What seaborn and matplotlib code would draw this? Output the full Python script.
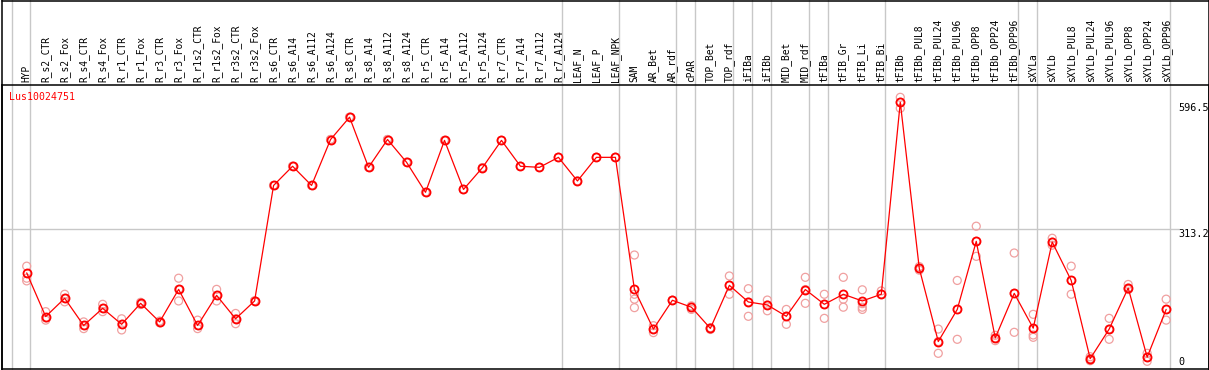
import matplotlib
matplotlib.use("Agg")
import matplotlib.pyplot as plt
from matplotlib.lines import Line2D
import matplotlib.transforms as mtransforms
import seaborn as sns
import pandas as pd
import numpy as np

categories = ["HYP", "R_s2_CTR", "R_s2_Fox", "R_s4_CTR", "R_s4_Fox", "R_r1_CTR", "R_r1_Fox",
              "R_r3_CTR", "R_r3_Fox", "R_r1s2_CTR", "R_r1s2_Fox", "R_r3s2_CTR", "R_r3s2_Fox",
              "R_s6_CTR", "R_s6_A14", "R_s6_A112", "R_s6_A124", "R_s8_CTR", "R_s8_A14",
              "R_s8_A112", "R_s8_A124", "R_r5_CTR", "R_r5_A14", "R_r5_A112", "R_r5_A124",
              "R_r7_CTR", "R_r7_A14", "R_r7_A112", "R_r7_A124", "LEAF_N", "LEAF_P", "LEAF_NPK",
              "SAM", "AR_Bet", "AR_rdf", "cPAR", "TOP_Bet", "TOP_rdf", "iFIBa", "iFIBb",
              "MID_Bet", "MID_rdf", "tFIBa", "tFIB_Gr", "tFIB_Li", "tFIB_Bi", "tFIBb",
              "tFIBb_PUL8", "tFIBb_PUL24", "tFIBb_PUL96", "tFIBb_OPP8", "tFIBb_OPP24",
              "tFIBb_OPP96", "sXYLa", "sXYLb", "sXYLb_PUL8", "sXYLb_PUL24", "sXYLb_PUL96",
              "sXYLb_OPP8", "sXYLb_OPP24", "sXYLb_OPP96"]

means = [214, 116, 157, 96, 134.5, 98.6, 145.7, 104, 177, 96, 163.6, 111, 151,
         410, 453, 410, 513, 563, 450.6, 513, 462, 394.6, 511, 401, 450, 511, 453, 450.6,
         473, 420, 473, 473,
         177, 88, 152.5, 137, 89.5, 186, 148.7, 142, 116.6, 176.6, 143.5, 166, 151, 166,
         596.5, 224, 60, 132, 284.7, 68, 168, 90, 283, 197, 21.6, 88, 180, 25, 132]

replicates = [
    [229, 202, 196], [127, 108, 113], [166, 149, 157], [104, 89, 96], [143.5, 127, 134.5],
    [111, 86, 98.6], [148, 143, 145.7], [106, 102, 104], [202, 151, 177], [108, 89, 96],
    [177, 151, 163.6], [123, 100, 111], [151, 151, 151],
    [410, 410], [453, 453], [410, 410], [513, 513], [563, 563], [450.6, 450.6], [513, 513],
    [462, 462], [394.6, 394.6], [511, 511], [401, 401], [450, 450], [511, 511], [453, 453],
    [450.6, 450.6], [473, 473], [420, 420], [473, 473], [473, 473],
    [254, 166, 155, 136], [95.5, 80, 88], [152.5, 152.5], [140, 132, 137], [91, 87, 89.5],
    [207, 166, 186], [178.5, 116.6, 148.7], [153, 129, 142], [132, 98.6, 116.6],
    [204, 145.7, 176.6], [166, 112, 143.5], [204, 137, 155], [176, 137, 132, 145],
    [173.5, 166, 166], [607.6, 583, 596.5], [228, 220, 224], [88, 33.6, 60], [197, 65, 132],
    [318.6, 251, 284.7], [74, 62, 68], [258.5, 80.7, 168], [121, 74.7, 69.5],
    [291.6, 276, 283], [229, 166, 197], [26, 17, 21.6], [112, 65, 88], [188, 176.6, 180],
    [33.6, 15.7, 25], [155, 108, 132]]

separators_after = [-1, 0, 28, 31, 34, 35, 37, 38, 39, 41, 42, 45, 52, 53, 60]
right_ticks = [596.5, 313.2, 0]
right_tick_labels = ["596.5", "313.2", "0"]
gene = "Lus10024751"

sns.set_theme(style="white")
plt.rcParams["font.family"] = ["DejaVu Sans Mono", "DejaVu Sans"]

W, H = 1209, 370
fig = plt.figure(figsize=(W / 100, H / 100), dpi=100)
ax_l, ax_r, ax_t, ax_b = 1.5, 1208.7, 85.0, 368.7
ax = fig.add_axes([ax_l / W, (H - ax_b) / H, (ax_r - ax_l) / W, (ax_b - ax_t) / H])

idx = np.arange(len(categories))
mean_df = pd.DataFrame({"x": idx, "y": means})
rep_x = [i for i, reps in enumerate(replicates) for _ in reps]
rep_y = [v for reps in replicates for v in reps]
rep_df = pd.DataFrame({"x": rep_x, "y": rep_y})

red = "#ff0000"
pale = "#f0a0a0"
grey = "#c8c8c8"

# separators spanning full figure height
blend = mtransforms.blended_transform_factory(ax.transData, ax.transAxes)
top_frac = 1 + ax_t / (ax_b - ax_t)
for s in separators_after:
    ax.plot([s + 0.2, s + 0.2], [0, top_frac], transform=blend, color=grey,
            lw=1.0, clip_on=False, zorder=0.5)

# horizontal reference line
ax.axhline(313.2, xmin=0, xmax=0.975, color=grey, lw=1.0, zorder=0.6)

sns.scatterplot(data=rep_df, x="x", y="y", ax=ax, marker="o", s=33,
                facecolor="none", edgecolor=pale, linewidth=0.9, zorder=2, legend=False)
sns.lineplot(data=mean_df, x="x", y="y", ax=ax, color=red, lw=0.9, sort=False,
             estimator=None, marker="o", markersize=5.8, markerfacecolor="none",
             markeredgecolor=red, markeredgewidth=1.3, zorder=3, legend=False)

ax.set_xlim(-1.327, 62.24)
ax.set_ylim(-0.9, 635.2)
ax.set_xlabel("")
ax.set_ylabel("")
ax.set_yticks([])
ax.xaxis.tick_top()
ax.set_xticks(idx)
ax.set_xticklabels(categories, rotation=90, fontsize=6.9, color="black")
ax.tick_params(axis="x", length=0, pad=2, top=True, bottom=False,
               labeltop=True, labelbottom=False)

for sp in ax.spines.values():
    sp.set_visible(True)
    sp.set_color("black")
    sp.set_linewidth(1.1)

# right-side value labels
blend2 = mtransforms.blended_transform_factory(ax.transAxes, ax.transData)
for v, lab in zip(right_ticks, right_tick_labels):
    va = "bottom" if v == 0 else "top"
    yy = v + 4 if v == 0 else v - 1
    ax.text(0.9752, yy, lab, transform=blend2, ha="left", va=va, fontsize=7.3, color="black")

ax.text(0.0065, 0.959, gene, transform=ax.transAxes, ha="left", va="center",
        fontsize=7.1, color=red)

# outer frame around label area
for xs, ys in [([ax_l / W, ax_l / W], [0, 1]), ([ax_r / W, ax_r / W], [0, 1]),
               ([ax_l / W, ax_r / W], [1 - 0.6 / H, 1 - 0.6 / H])]:
    fig.add_artist(Line2D(xs, ys, transform=fig.transFigure, color="black", lw=1.1))

fig.savefig("out.png", dpi=100)
